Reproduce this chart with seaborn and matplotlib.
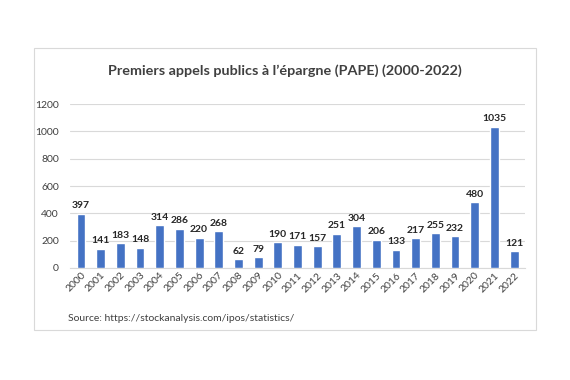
import matplotlib
matplotlib.use("Agg")
import matplotlib.pyplot as plt
import seaborn as sns
import pandas as pd
from matplotlib.patches import Rectangle

# data
years = [str(y) for y in range(2000, 2023)]
ipos = [397, 141, 183, 148, 314, 286, 220, 268, 62, 79, 190, 171, 157,
        251, 304, 206, 133, 217, 255, 232, 480, 1035, 121]
yticks = [0, 200, 400, 600, 800, 1000, 1200]

sns.set_style("white")
plt.rcParams['font.family'] = ['Lato', 'DejaVu Sans']

df = pd.DataFrame({"annee": years, "pape": ipos})

fig = plt.figure(figsize=(5.7, 3.8), dpi=100)
ax = fig.add_axes([0.123, 0.295, 0.798, 0.431])

sns.barplot(data=df, x="annee", y="pape", color="#4472C4", width=0.45,
            saturation=1, ax=ax, zorder=3)

for i, v in enumerate(ipos):
    ax.text(i, v + 25, str(v), ha="center", va="bottom", fontsize=7.5,
            fontweight="bold", color="#262626")

ax.set_ylim(0, 1200)
ax.set_yticks(yticks)
ax.set_xlim(-0.55, len(years) - 0.45)
ax.yaxis.grid(True, color="#D9D9D9", linewidth=0.8, zorder=0)
ax.set_axisbelow(True)
for s in ["top", "right", "left"]:
    ax.spines[s].set_visible(False)
ax.spines["bottom"].set_color("#D9D9D9")
ax.tick_params(axis="y", labelsize=7.5, colors="#404040", length=0, pad=8)
ax.tick_params(axis="x", labelsize=7.5, colors="#404040", length=0, pad=2)
plt.setp(ax.get_xticklabels(), rotation=45, ha="right", rotation_mode="anchor")
ax.set_xlabel("")
ax.set_ylabel("")

fig.text(0.5, 0.815, "Premiers appels publics à l’épargne (PAPE) (2000-2022)",
         ha="center", va="center", fontsize=10.4, fontweight="bold", color="#404040")
fig.text(0.12, 0.163, "Source: https://stockanalysis.com/ipos/statistics/",
         ha="left", va="center", fontsize=7.5, color="#404040")

fig.patches.append(Rectangle((34 / 570, 1 - 330 / 380), 502 / 570, 282 / 380,
                             transform=fig.transFigure, fill=False,
                             edgecolor="#D9D9D9", linewidth=0.8))

fig.savefig("out.png", dpi=100, facecolor="white")
